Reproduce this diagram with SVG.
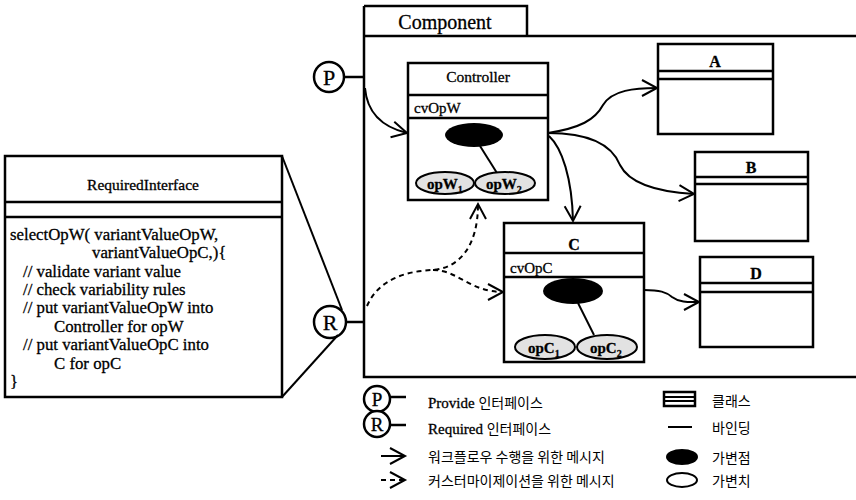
<svg xmlns="http://www.w3.org/2000/svg" width="856" height="500" viewBox="0 0 856 500">
  <style>
    .box { fill: #fff; stroke: #000; stroke-width: 2.5; }
    .ln { stroke: #000; stroke-width: 2.5; fill: none; }
    .thin { stroke: #000; stroke-width: 2; fill: none; }
    .flow { stroke: #000; stroke-width: 2; fill: none; marker-end: url(#open); }
    .cust { stroke: #000; stroke-width: 2; fill: none; stroke-dasharray: 5 4; marker-end: url(#open); }
    .serif { font-family: "Liberation Serif", "Times New Roman", serif; fill: #000; stroke: #000; stroke-width: 0.3; }
    .ko { font-family: "Noto Sans CJK KR", "Noto Sans", sans-serif; fill: #000; font-size: 14px; }
    .blob { fill: #000; }
    .var { fill: #e2e2e2; stroke: #000; stroke-width: 2; }
    .iface { fill: #fff; stroke: #000; stroke-width: 2.5; }
  </style>
  <defs>
    <marker id="open" markerUnits="userSpaceOnUse" markerWidth="20" markerHeight="20" viewBox="-16 -10 20 20" refX="0" refY="0" orient="auto">
      <path d="M-15,-8 L0,0 L-15,8" fill="none" stroke="#000" stroke-width="2"/>
    </marker>
  </defs>
  <rect width="856" height="500" fill="#fff"/>

  <!-- component frame with tab -->
  <g id="component">
    <path class="ln" d="M364,6 H527 V36 M364,36 H860 M364,6 V377 H860" stroke-width="3"/>
    <text class="serif" x="445" y="29" font-size="20" text-anchor="middle">Component</text>
  </g>

  <!-- provided interface -->
  <g id="provide">
    <circle class="iface" cx="329" cy="77" r="15"/>
    <text class="serif" x="329" y="85" font-size="22" text-anchor="middle">P</text>
    <line class="ln" x1="344" y1="77" x2="364" y2="77"/>
  </g>

  <!-- required interface -->
  <g id="required">
    <circle class="iface" cx="330" cy="322" r="16"/>
    <text class="serif" x="330" y="330" font-size="22" text-anchor="middle">R</text>
    <line class="ln" x1="346" y1="322" x2="364" y2="322"/>
    <line class="thin" x1="282" y1="156" x2="342" y2="310"/>
    <line class="thin" x1="282" y1="397" x2="338" y2="335"/>
  </g>

  <!-- RequiredInterface class -->
  <g id="requiredInterface">
    <rect class="box" x="5" y="156" width="277" height="241"/>
    <line class="ln" x1="5" y1="202" x2="282" y2="202"/>
    <line class="ln" x1="5" y1="217" x2="282" y2="217"/>
    <text class="serif" x="143" y="190" font-size="15.5" text-anchor="middle">RequiredInterface</text>
    <g class="serif" font-size="16.8">
      <text x="10" y="240">selectOpW( variantValueOpW,</text>
      <text x="92" y="258">variantValueOpC,){</text>
      <text x="23" y="277">// validate variant value</text>
      <text x="23" y="295">// check variability rules</text>
      <text x="23" y="313">// put variantValueOpW into</text>
      <text x="54" y="332">Controller for opW</text>
      <text x="23" y="350">// put variantValueOpC into</text>
      <text x="54" y="369">C for opC</text>
      <text x="10" y="387">}</text>
    </g>
  </g>

  <!-- Controller -->
  <g id="controller">
    <rect class="box" x="408" y="63" width="140" height="137"/>
    <line class="ln" x1="408" y1="95" x2="548" y2="95"/>
    <line class="ln" x1="408" y1="118" x2="548" y2="118"/>
    <text class="serif" x="478" y="82" font-size="15.5" text-anchor="middle">Controller</text>
    <text class="serif" x="414" y="113" font-size="15">cvOpW</text>
    <ellipse class="blob" cx="474" cy="135" rx="29" ry="12"/>
    <line class="thin" x1="480" y1="146" x2="497" y2="173"/>
    <ellipse class="var" cx="445" cy="183" rx="29" ry="11"/>
    <ellipse class="var" cx="505" cy="183" rx="30" ry="11"/>
    <text class="serif" x="427" y="189" font-size="15" font-weight="bold">opW<tspan font-size="10" dy="4">1</tspan></text>
    <text class="serif" x="486" y="189" font-size="15" font-weight="bold">opW<tspan font-size="10" dy="4">2</tspan></text>
  </g>

  <!-- C -->
  <g id="c">
    <rect class="box" x="504" y="223" width="140" height="139"/>
    <line class="ln" x1="504" y1="253" x2="644" y2="253"/>
    <line class="ln" x1="504" y1="277" x2="644" y2="277"/>
    <text class="serif" x="574" y="250" font-size="16" font-weight="bold" text-anchor="middle">C</text>
    <text class="serif" x="510" y="273" font-size="15">cvOpC</text>
    <ellipse class="blob" cx="573" cy="291" rx="30" ry="13"/>
    <line class="thin" x1="578" y1="303" x2="594" y2="335"/>
    <ellipse class="var" cx="545" cy="347" rx="30" ry="12"/>
    <ellipse class="var" cx="607" cy="347" rx="30" ry="12"/>
    <text class="serif" x="528" y="353" font-size="15" font-weight="bold">opC<tspan font-size="10" dy="4">1</tspan></text>
    <text class="serif" x="590" y="353" font-size="15" font-weight="bold">opC<tspan font-size="10" dy="4">2</tspan></text>
  </g>

  <!-- A, B, D -->
  <g id="a">
    <rect class="box" x="658" y="44" width="115" height="90"/>
    <line class="ln" x1="658" y1="71" x2="773" y2="71"/>
    <line class="ln" x1="658" y1="79" x2="773" y2="79"/>
    <text class="serif" x="715" y="67" font-size="16" font-weight="bold" text-anchor="middle">A</text>
  </g>
  <g id="b">
    <rect class="box" x="695" y="152" width="113" height="89"/>
    <line class="ln" x1="695" y1="177" x2="808" y2="177"/>
    <line class="ln" x1="695" y1="184" x2="808" y2="184"/>
    <text class="serif" x="751" y="173" font-size="16" font-weight="bold" text-anchor="middle">B</text>
  </g>
  <g id="d">
    <rect class="box" x="700" y="257" width="113" height="90"/>
    <line class="ln" x1="700" y1="283" x2="813" y2="283"/>
    <line class="ln" x1="700" y1="292" x2="813" y2="292"/>
    <text class="serif" x="756" y="279" font-size="16" font-weight="bold" text-anchor="middle">D</text>
  </g>

  <!-- connectors -->
  <g id="connectors">
    <path class="flow" d="M365,88 C367,112 382,127 407,133"/>
    <path class="flow" d="M548,133 C580,128 595,120 603,105 C612,90 635,88 657,88"/>
    <path class="flow" d="M548,133 C590,133 612,145 620,165 C630,185 660,192 694,194"/>
    <path class="flow" d="M549,136 C562,148 572,178 573,221"/>
    <path class="flow" d="M644,290 C660,290 666,292 672,297 C680,303 690,302 699,302"/>
    <path class="cust" d="M367,306 C378,280 405,271 433,270 C458,268 478,248 478,204"/>
    <path class="cust" d="M433,270 C458,270 470,292 503,292"/>
  </g>

  <!-- legend -->
  <g id="legend">
    <circle class="iface" cx="377" cy="399" r="13"/>
    <text class="serif" x="377" y="406" font-size="19" text-anchor="middle">P</text>
    <line class="ln" x1="390" y1="397" x2="406" y2="397"/>
    <text x="428" y="408"><tspan class="serif" font-size="15">Provide </tspan><tspan class="ko">인터페이스</tspan></text>

    <circle class="iface" cx="377" cy="424" r="13"/>
    <text class="serif" x="377" y="431" font-size="19" text-anchor="middle">R</text>
    <line class="ln" x1="390" y1="425" x2="406" y2="425"/>
    <text x="428" y="434"><tspan class="serif" font-size="15">Required </tspan><tspan class="ko">인터페이스</tspan></text>

    <path class="flow" d="M381,456 H405"/>
    <text class="ko" x="428" y="462">워크플로우 수행을 위한 메시지</text>
    <path class="cust" d="M381,480 H405" stroke-dasharray="4 3"/>
    <text class="ko" x="428" y="486">커스터마이제이션을 위한 메시지</text>

    <rect class="box" x="664" y="392" width="31" height="14"/>
    <line class="thin" x1="664" y1="397" x2="695" y2="397"/>
    <line class="thin" x1="664" y1="401" x2="695" y2="401"/>
    <text class="ko" x="712" y="406">클래스</text>
    <line class="thin" x1="668" y1="427" x2="692" y2="427"/>
    <text class="ko" x="712" y="433">바인딩</text>
    <ellipse class="blob" cx="682" cy="457" rx="16" ry="8"/>
    <text class="ko" x="712" y="463">가변점</text>
    <ellipse cx="682" cy="480" rx="15" ry="7" fill="#fff" stroke="#000" stroke-width="2"/>
    <text class="ko" x="712" y="486">가변치</text>
  </g>
</svg>
